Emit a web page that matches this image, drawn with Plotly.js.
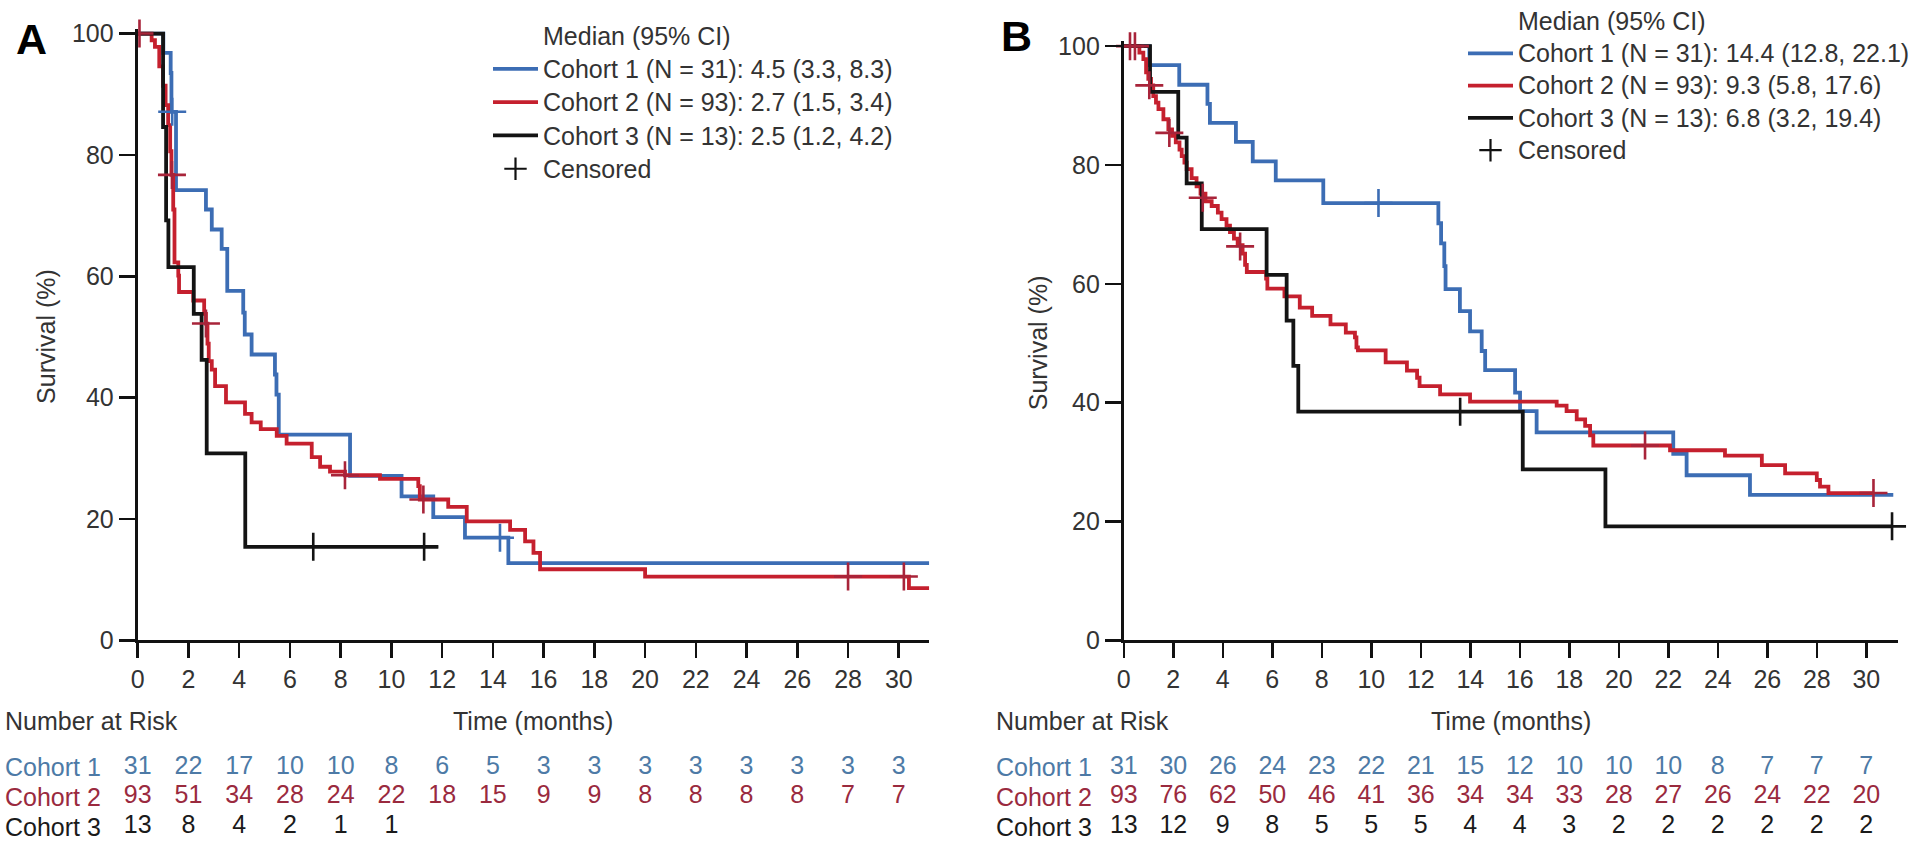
<!DOCTYPE html>
<html>
<head>
<meta charset="utf-8">
<script src="https://cdn.plot.ly/plotly-3.0.1.min.js"></script>
<style>html,body{margin:0;padding:0;background:#fff;}#chart{width:1920px;height:845px;}</style>
</head>
<body>
<div id="chart"></div>
<script>
// ---------- Data ----------
// Panel A (months, % surviving)
const a1Time = [0, 1.01, 1.30, 1.33, 1.51, 2.69, 2.92, 3.31, 3.53, 4.16, 4.22, 4.49, 5.41, 5.47, 5.56, 8.37, 10.40, 11.65, 12.90, 14.61, 31.2];
const a1Surv = [100, 96.8, 93.5, 87.1, 74.2, 71.0, 67.7, 64.5, 57.6, 54.0, 50.4, 47.1, 43.8, 40.5, 33.9, 27.1, 23.7, 20.3, 16.9, 12.7, 12.7];
const a1CensTime = [1.36, 14.28];
const a1CensSurv = [87.1, 16.9];

const a2Time = [0, 0.55, 0.68, 0.85, 1.0, 1.1, 1.2, 1.28, 1.33, 1.40, 1.45, 1.60, 1.63, 2.19, 2.62, 2.69, 2.75, 2.80, 2.92, 3.05, 3.48, 4.23, 4.49, 4.85, 5.48, 5.87, 6.86, 7.19, 7.58, 8.17, 9.55, 11.06, 11.12, 12.24, 12.97, 14.68, 15.27, 15.60, 15.86, 20.0, 30.4, 31.2];
const a2Surv = [100, 98.9, 97.8, 94.6, 91.4, 88.2, 84.9, 80.6, 76.7, 71.0, 62.3, 60.1, 57.4, 56.0, 53.8, 52.2, 48.9, 46.0, 44.6, 41.9, 39.2, 37.3, 35.9, 34.8, 33.7, 32.4, 30.2, 28.6, 27.8, 27.2, 26.6, 25.4, 23.2, 22.0, 19.6, 18.2, 16.3, 14.4, 11.7, 10.5, 8.6, 8.6];
const a2CensTime = [0.07, 1.35, 2.69, 8.17, 11.26, 28.0, 30.2];
const a2CensSurv = [100, 76.7, 52.2, 27.2, 23.2, 10.5, 10.5];

const a3Time = [0, 1.0, 1.12, 1.21, 2.21, 2.52, 2.72, 4.24, 11.85];
const a3Surv = [100, 84.6, 69.2, 61.5, 53.8, 46.2, 30.8, 15.4, 15.4];
const a3CensTime = [6.92, 11.29];
const a3CensSurv = [15.4, 15.4];

// Panel B
const b1Time = [0, 1.03, 2.24, 3.38, 3.48, 4.53, 5.21, 6.14, 8.06, 12.71, 12.82, 12.95, 13.0, 13.58, 13.99, 14.46, 14.6, 15.81, 16.01, 16.68, 22.2, 22.74, 25.3, 31.09];
const b1Surv = [100, 96.8, 93.5, 90.3, 87.1, 83.9, 80.6, 77.4, 73.6, 70.2, 66.8, 63.0, 59.1, 55.4, 52.0, 48.7, 45.5, 41.7, 38.6, 35.0, 31.4, 27.8, 24.5, 24.5];
const b1CensTime = [10.29];
const b1CensSurv = [73.6];

const b2Time = [0, 0.63, 0.79, 0.90, 0.99, 1.10, 1.19, 1.30, 1.40, 1.60, 1.80, 1.95, 2.10, 2.25, 2.34, 2.45, 2.54, 2.74, 2.94, 3.10, 3.30, 3.55, 3.80, 3.95, 4.15, 4.29, 4.45, 4.60, 4.80, 4.90, 4.97, 5.75, 5.80, 6.49, 7.11, 7.61, 8.35, 8.97, 9.34, 9.40, 9.46, 10.58, 11.44, 11.85, 11.95, 12.78, 13.99, 17.49, 17.89, 18.30, 18.64, 18.84, 18.97, 22.07, 24.29, 25.78, 26.72, 28.00, 28.13, 28.47, 30.3];
const b2Surv = [100, 98.9, 97.8, 95.6, 94.5, 93.4, 91.6, 90.5, 89.4, 87.7, 86.0, 84.9, 83.8, 82.6, 81.5, 80.4, 79.3, 77.8, 76.4, 75.2, 73.9, 73.1, 72.0, 70.9, 69.8, 68.7, 67.6, 66.5, 65.1, 63.2, 62.0, 60.9, 59.2, 57.9, 56.0, 54.6, 53.2, 51.8, 51.0, 49.3, 48.8, 46.8, 45.4, 44.2, 42.8, 41.4, 40.2, 39.5, 38.6, 37.2, 36.1, 34.5, 32.8, 32.0, 31.1, 29.5, 28.1, 27.0, 25.9, 24.8, 24.8];
const b2CensTime = [0.25, 0.45, 1.03, 1.84, 3.19, 4.70, 21.06, 30.29];
const b2CensSurv = [100, 100, 93.4, 85.4, 74.5, 66.3, 32.8, 24.8];

const b3Time = [0, 1.06, 2.2, 2.54, 3.15, 5.77, 6.58, 6.85, 7.05, 16.12, 19.46, 31.04];
const b3Surv = [100, 92.3, 84.6, 76.9, 69.2, 61.5, 53.8, 46.2, 38.5, 28.8, 19.2, 19.2];
const b3CensTime = [13.59, 31.04];
const b3CensSurv = [38.5, 19.2];

// Number at risk tables
const riskTimes = [0, 2, 4, 6, 8, 10, 12, 14, 16, 18, 20, 22, 24, 26, 28, 30];
const riskA1 = [31, 22, 17, 10, 10, 8, 6, 5, 3, 3, 3, 3, 3, 3, 3, 3];
const riskA2 = [93, 51, 34, 28, 24, 22, 18, 15, 9, 9, 8, 8, 8, 8, 7, 7];
const riskA3 = [13, 8, 4, 2, 1, 1];
const riskB1 = [31, 30, 26, 24, 23, 22, 21, 15, 12, 10, 10, 10, 8, 7, 7, 7];
const riskB2 = [93, 76, 62, 50, 46, 41, 36, 34, 34, 33, 28, 27, 26, 24, 22, 20];
const riskB3 = [13, 12, 9, 8, 5, 5, 5, 4, 4, 3, 2, 2, 2, 2, 2, 2];

const cohortNames = ['Cohort 1', 'Cohort 2', 'Cohort 3'];
const legendA = ['Cohort 1 (N = 31): 4.5 (3.3, 8.3)', 'Cohort 2 (N = 93): 2.7 (1.5, 3.4)', 'Cohort 3 (N = 13): 2.5 (1.2, 4.2)'];
const legendB = ['Cohort 1 (N = 31): 14.4 (12.8, 22.1)', 'Cohort 2 (N = 93): 9.3 (5.8, 17.6)', 'Cohort 3 (N = 13): 6.8 (3.2, 19.4)'];
const legendHeader = 'Median (95% CI)';
const legendCensored = 'Censored';
const xTicks = [0, 2, 4, 6, 8, 10, 12, 14, 16, 18, 20, 22, 24, 26, 28, 30];
const yTicks = [0, 20, 40, 60, 80, 100];

// ---------- Styling ----------
const FONT = 'Liberation Sans, Arial, Helvetica, sans-serif';
const lineColors = ['#3c6db4', '#c5202e', '#141414'];
const censColors = ['#3c6db4', '#a8243a', '#141414'];
const riskColors = ['#4d7aa6', '#9a2a3e', '#1a1a1a'];
const TXT = '#333333';
const big = s => '<span style="font-size:25px">' + s + '</span>';

const traces = [];
function addPanel(xa, ya, lg, times, survs, cTimes, cSurvs, labels) {
  traces.push({x: [null], y: [null], xaxis: xa, yaxis: ya, type: 'scatter', mode: 'lines',
    line: {width: 0, color: 'rgba(0,0,0,0)'}, name: big(legendHeader), legend: lg, legendrank: 1, hoverinfo: 'skip'});
  for (let i = 0; i < 3; i++) {
    traces.push({x: times[i], y: survs[i], xaxis: xa, yaxis: ya, type: 'scatter', mode: 'lines',
      line: {shape: 'hv', width: 3.8, color: lineColors[i]}, name: big(labels[i]), legend: lg,
      legendrank: 2 + i, hoverinfo: 'skip'});
  }
  for (let i = 0; i < 3; i++) {
    traces.push({x: cTimes[i], y: cSurvs[i], xaxis: xa, yaxis: ya, type: 'scatter', mode: 'markers',
      marker: {symbol: 'cross-thin', size: 20, color: censColors[i], line: {width: 2.6, color: censColors[i]}},
      showlegend: false, cliponaxis: false, hoverinfo: 'skip'});
  }
  traces.push({x: [null], y: [null], xaxis: xa, yaxis: ya, type: 'scatter', mode: 'markers',
    marker: {symbol: 'cross-thin', size: 20, color: '#111', line: {width: 2.2, color: '#111'}},
    name: big(legendCensored), legend: lg, legendrank: 6, hoverinfo: 'skip'});
}
addPanel('x', 'y', 'legend', [a1Time, a2Time, a3Time], [a1Surv, a2Surv, a3Surv],
  [a1CensTime, a2CensTime, a3CensTime], [a1CensSurv, a2CensSurv, a3CensSurv], legendA);
addPanel('x2', 'y2', 'legend2', [b1Time, b2Time, b3Time], [b1Surv, b2Surv, b3Surv],
  [b1CensTime, b2CensTime, b3CensTime], [b1CensSurv, b2CensSurv, b3CensSurv], legendB);

function addRisk(xa, ya, rows) {
  rows.forEach((vals, i) => {
    traces.push({x: riskTimes.slice(0, vals.length), y: vals.map(() => i + 1), text: vals.map(String),
      xaxis: xa, yaxis: ya, type: 'scatter', mode: 'text', textposition: 'middle center',
      textfont: {family: FONT, size: 25, color: riskColors[i]}, showlegend: false, cliponaxis: false, hoverinfo: 'skip'});
  });
}
addRisk('x', 'y3', [riskA1, riskA2, riskA3]);
addRisk('x2', 'y4', [riskB1, riskB2, riskB3]);

// ---------- Layout ----------
const W = 1920, H = 845;
const pxA = {x0: 137.7, perMonth: 25.37, y0: 638.3, perPct: 6.125};
const pxB = {x0: 1123.8, perMonth: 24.75, y0: 638.5, perPct: 6.0};
const xMaxA = 31.2, xMaxB = 31.3, yMax = 100.8;

function xAxis(px, xmax, anchor) {
  return {domain: [px.x0 / W, (px.x0 + xmax * px.perMonth) / W], range: [0, xmax], anchor: anchor,
    tickmode: 'array', tickvals: xTicks, ticks: 'outside', ticklen: 15, tickwidth: 2.6, tickcolor: '#111',
    showline: true, linewidth: 3, linecolor: '#111', showgrid: false, zeroline: false,
    tickfont: {family: FONT, size: 25, color: TXT}, fixedrange: true};
}
function yAxis(px, anchor) {
  return {domain: [(H - px.y0) / H, (H - px.y0 + yMax * px.perPct) / H], range: [0, yMax], anchor: anchor,
    tickmode: 'array', tickvals: yTicks, ticks: 'outside', ticklen: 16, tickwidth: 2.6, tickcolor: '#111',
    showline: true, linewidth: 3, linecolor: '#111', showgrid: false, zeroline: false,
    tickfont: {family: FONT, size: 25, color: TXT}, fixedrange: true};
}
const riskDomain = [(H - 841.7) / H, (H - 751.7) / H];

const annotations = [];
function ann(o) { annotations.push(Object.assign({showarrow: false, font: {family: FONT, size: 25, color: TXT}}, o)); }
ann({text: '<b>A</b>', xref: 'paper', yref: 'paper', x: 31 / W, y: 1 - 31 / H, xanchor: 'center', yanchor: 'middle', font: {family: FONT, size: 43, color: '#000'}});
ann({text: '<b>B</b>', xref: 'paper', yref: 'paper', x: 1016 / W, y: 1 - 28 / H, xanchor: 'center', yanchor: 'middle', font: {family: FONT, size: 43, color: '#000'}});
ann({text: 'Survival (%)', xref: 'paper', yref: 'y', x: 46 / W, y: 50, textangle: -90, xanchor: 'center', yanchor: 'middle'});
ann({text: 'Survival (%)', xref: 'paper', yref: 'y2', x: 1038 / W, y: 50, textangle: -90, xanchor: 'center', yanchor: 'middle'});
ann({text: 'Time (months)', xref: 'x domain', yref: 'paper', x: 0.5, y: 1 - 720 / H, xanchor: 'center', yanchor: 'middle'});
ann({text: 'Time (months)', xref: 'x2 domain', yref: 'paper', x: 0.5, y: 1 - 720 / H, xanchor: 'center', yanchor: 'middle'});
ann({text: 'Number at Risk', xref: 'paper', yref: 'paper', x: 3 / W, y: 1 - 720 / H, xanchor: 'left', yanchor: 'middle'});
ann({text: 'Number at Risk', xref: 'paper', yref: 'paper', x: 994 / W, y: 1 - 720 / H, xanchor: 'left', yanchor: 'middle'});
cohortNames.forEach((nm, i) => {
  ann({text: nm, xref: 'paper', yref: 'y3', x: 3 / W, y: i + 1, xanchor: 'left', yanchor: 'middle', font: {family: FONT, size: 25, color: riskColors[i]}});
  ann({text: nm, xref: 'paper', yref: 'y4', x: 994 / W, y: i + 1, xanchor: 'left', yanchor: 'middle', font: {family: FONT, size: 25, color: riskColors[i]}});
});

const legendBase = {xanchor: 'left', yanchor: 'top', bgcolor: 'rgba(0,0,0,0)', borderwidth: 0,
  itemwidth: 45, traceorder: 'normal', tracegroupgap: 0,
  itemclick: false, itemdoubleclick: false, itemsizing: 'trace'};

const layout = {
  width: W, height: H, margin: {l: 0, r: 0, t: 0, b: 0}, paper_bgcolor: '#fff', plot_bgcolor: 'rgba(0,0,0,0)',
  showlegend: true, hovermode: false,
  xaxis: xAxis(pxA, xMaxA, 'y'), yaxis: yAxis(pxA, 'x'),
  xaxis2: xAxis(pxB, xMaxB, 'y2'), yaxis2: yAxis(pxB, 'x2'),
  yaxis3: {domain: riskDomain, range: [3.5, 0.5], anchor: 'x', visible: false, fixedrange: true},
  yaxis4: {domain: riskDomain, range: [3.5, 0.5], anchor: 'x2', visible: false, fixedrange: true},
  legend: Object.assign({x: 488 / W, y: 1 - 6 / H, font: {family: FONT, size: 23.3, color: TXT}}, legendBase),
  legend2: Object.assign({x: 1463 / W, y: 1 + 8 / H, font: {family: FONT, size: 22.5, color: TXT}}, legendBase),
  annotations: annotations
};

Plotly.newPlot('chart', traces, layout, {staticPlot: true, displayModeBar: false});
</script>
</body>
</html>
